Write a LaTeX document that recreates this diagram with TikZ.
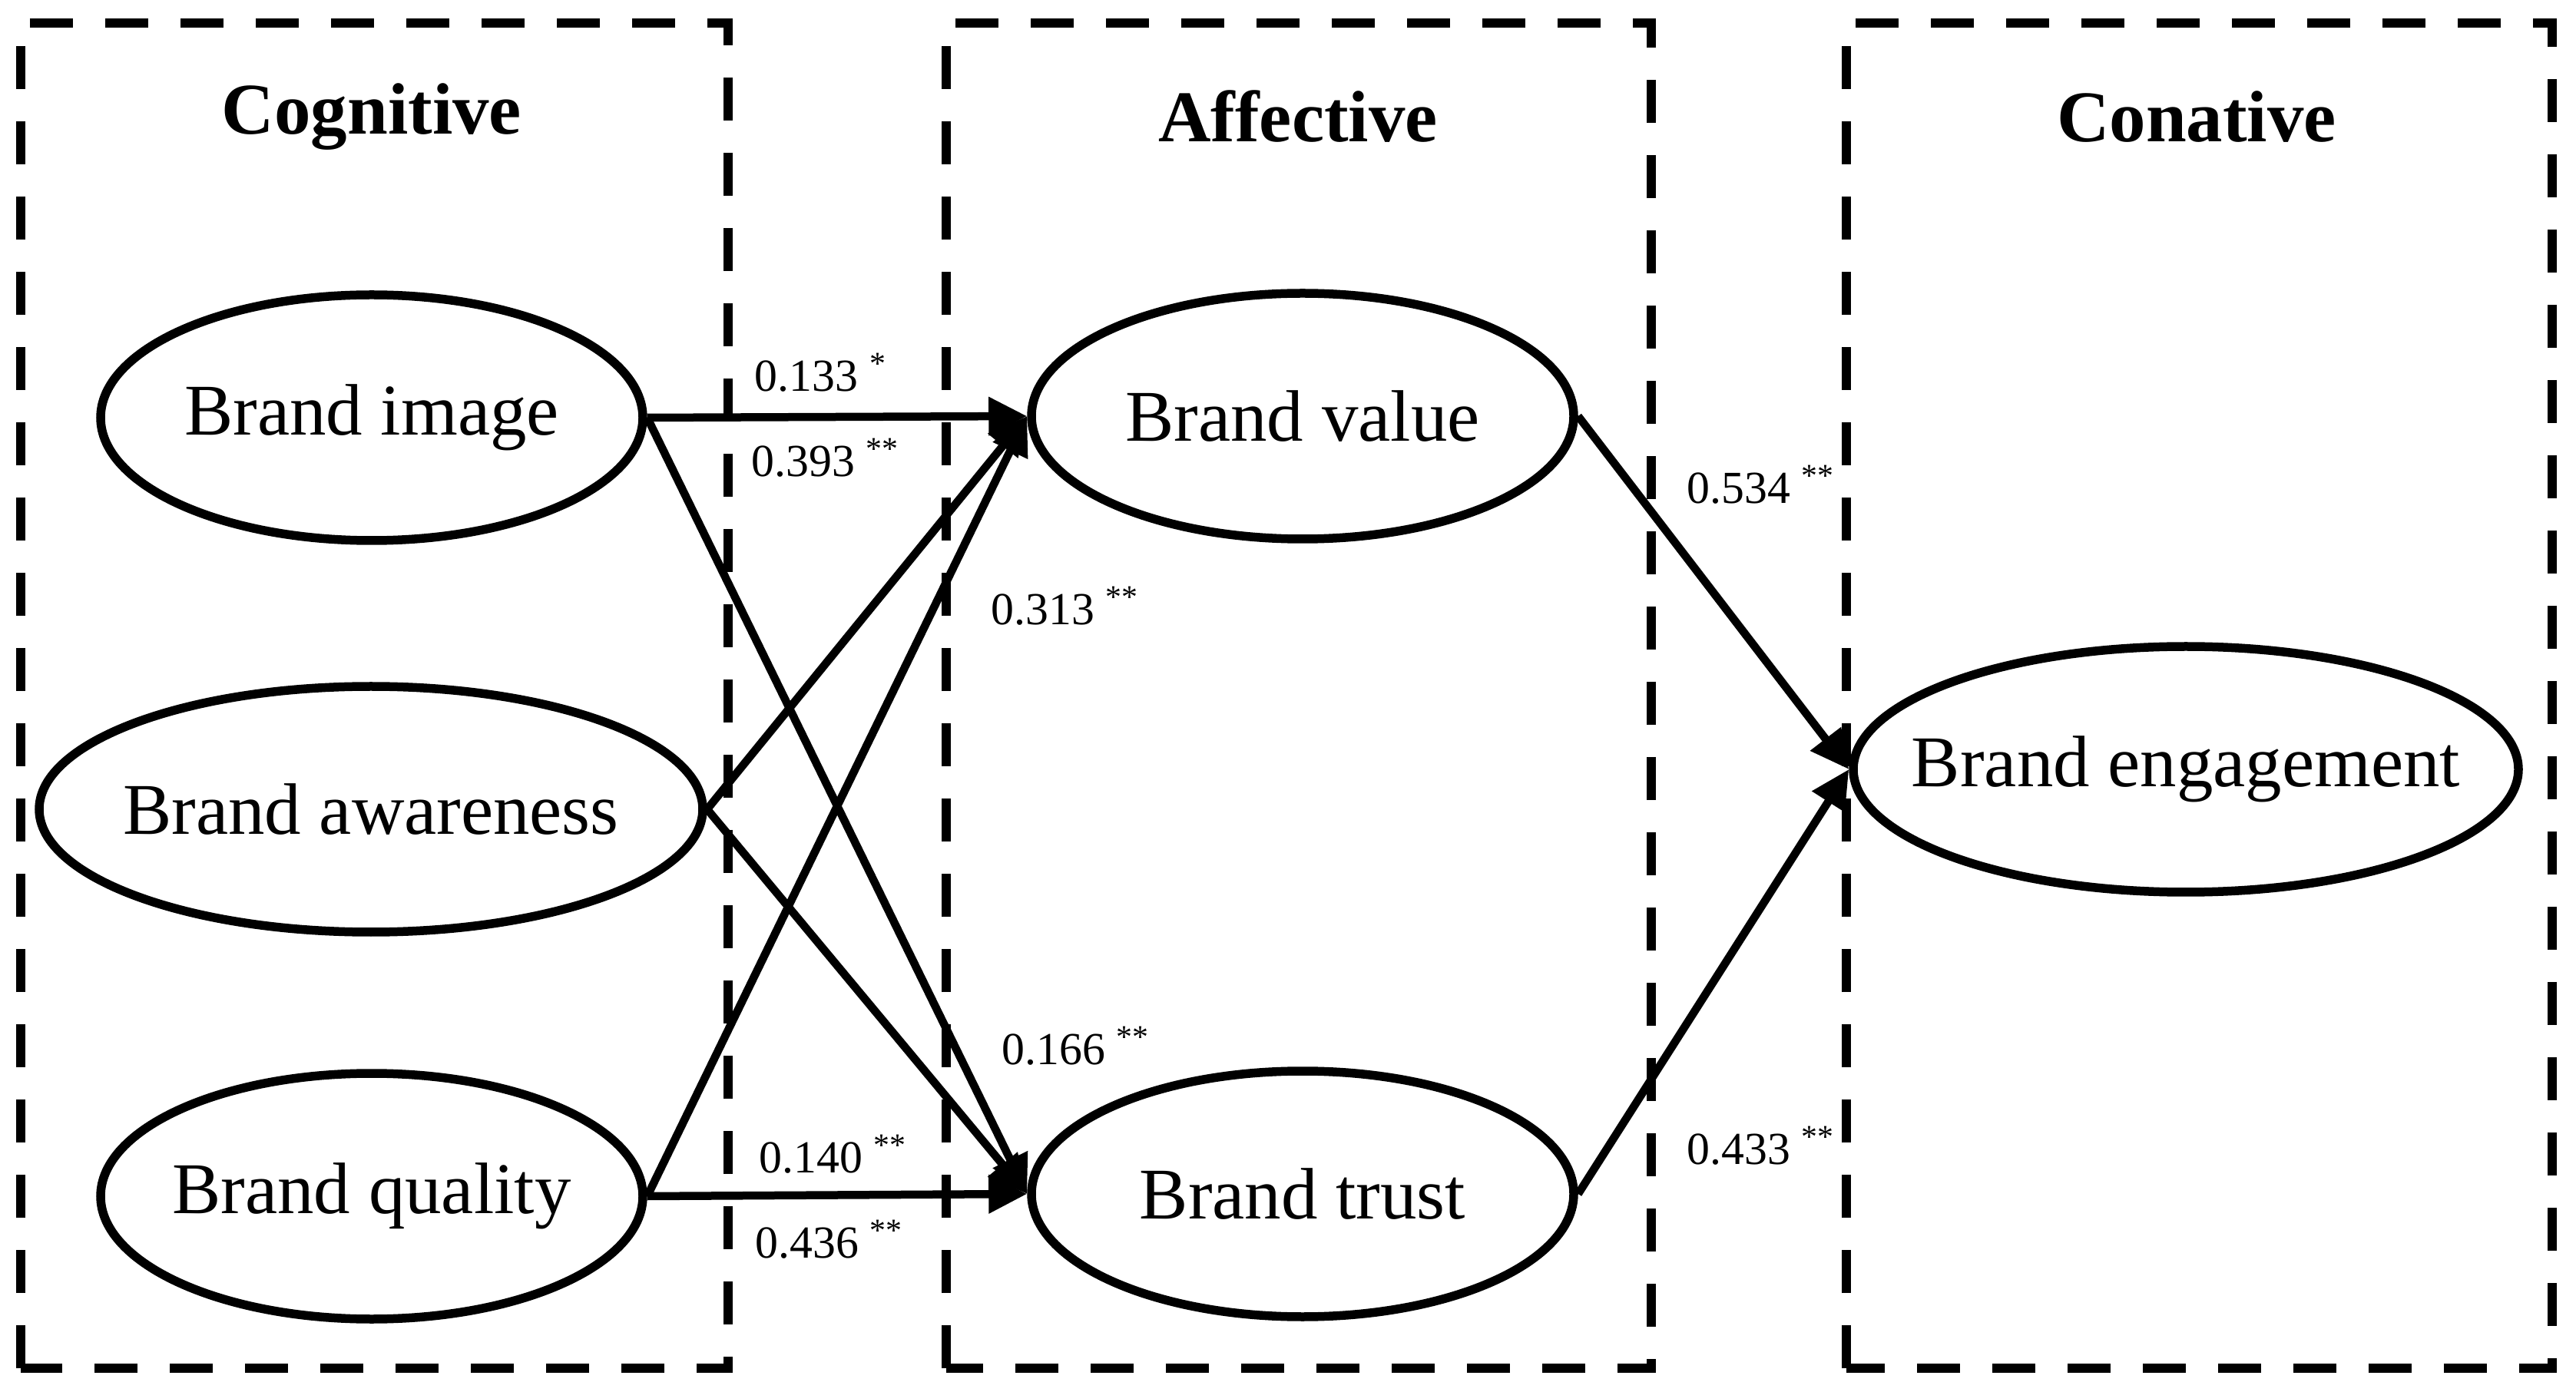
\documentclass[tikz,border=0pt]{standalone}
\usepackage{fontspec}
\setmainfont{Liberation Serif}
\usepackage{tikz}
\usetikzlibrary{shapes.geometric,arrows.meta}
\newcommand{\figunit}{1cm}
\newcommand{\coefnode}[3]{
	\node[coef] at (#1,#2) {#3};
}
\tikzset{
	groupbox/.style={draw, line width=1.2mm, dash pattern=on 5.6mm off 4.2mm},
	heading/.style={font=\fontsize{27}{32}\selectfont\bfseries},
	construct/.style={ellipse, draw, line width=1.15mm, minimum width=7.06cm, minimum height=3.2cm, inner sep=0pt, inner xsep=-1cm, font=\fontsize{27}{32}\selectfont},
	effect/.style={line width=1.05mm, -{Triangle[length=5mm,width=4.8mm]}},
	coef/.style={font=\fontsize{17}{20}\selectfont}
}

\begin{document}
\begin{tikzpicture}[x=\figunit,y=\figunit]
	\useasboundingbox (0,0) rectangle (33.54,18.12);

	\draw[groupbox] (0.27,0.30) rectangle (9.48,17.82);
	\draw[groupbox] (12.32,0.30) rectangle (21.50,17.82);
	\draw[groupbox] (24.04,0.30) rectangle (33.23,17.82);

	\node[heading] (cog) at (4.84,16.60) {Cognitive};
	\node[heading] (aff) at (16.90,16.60) {Affective};
	\node[heading] (con) at (28.60,16.60) {Conative};

	\node[construct] (BI) at (4.84,12.68) {Brand image};
	\node[construct, minimum width=8.64cm] (BA) at (4.83,7.58) {Brand awareness};
	\node[construct] (BQ) at (4.84,2.54) {Brand quality};
	\node[construct] (BV) at (16.96,12.70) {Brand value};
	\node[construct] (BT) at (16.96,2.57) {Brand trust};
	\node[construct, minimum width=8.66cm] (BE) at (28.46,8.10) {Brand engagement};

	\coefnode{10.69}{13.27}{0.133 \textsuperscript{*}}
	\coefnode{10.75}{12.16}{0.393 \textsuperscript{**}}
	\coefnode{13.87}{10.23}{0.313 \textsuperscript{**}}
	\coefnode{14.01}{4.50}{0.166 \textsuperscript{**}}
	\coefnode{10.85}{3.09}{0.140 \textsuperscript{**}}
	\coefnode{10.80}{1.98}{0.436 \textsuperscript{**}}
	\coefnode{22.93}{11.81}{0.534 \textsuperscript{**}}
	\coefnode{22.93}{3.20}{0.433 \textsuperscript{**}}

	\draw[effect] (BI.east) -- (BV.west);
	\draw[effect] (BI.east) -- (BT.west);
	\draw[effect] (BA.east) -- (BV.west);
	\draw[effect] (BA.east) -- (BT.west);
	\draw[effect] (BQ.east) -- (BV.west);
	\draw[effect] (BQ.east) -- (BT.west);
	\draw[effect] (BV.east) -- (BE.west);
	\draw[effect] (BT.east) -- (BE.west);
\end{tikzpicture}
\end{document}
